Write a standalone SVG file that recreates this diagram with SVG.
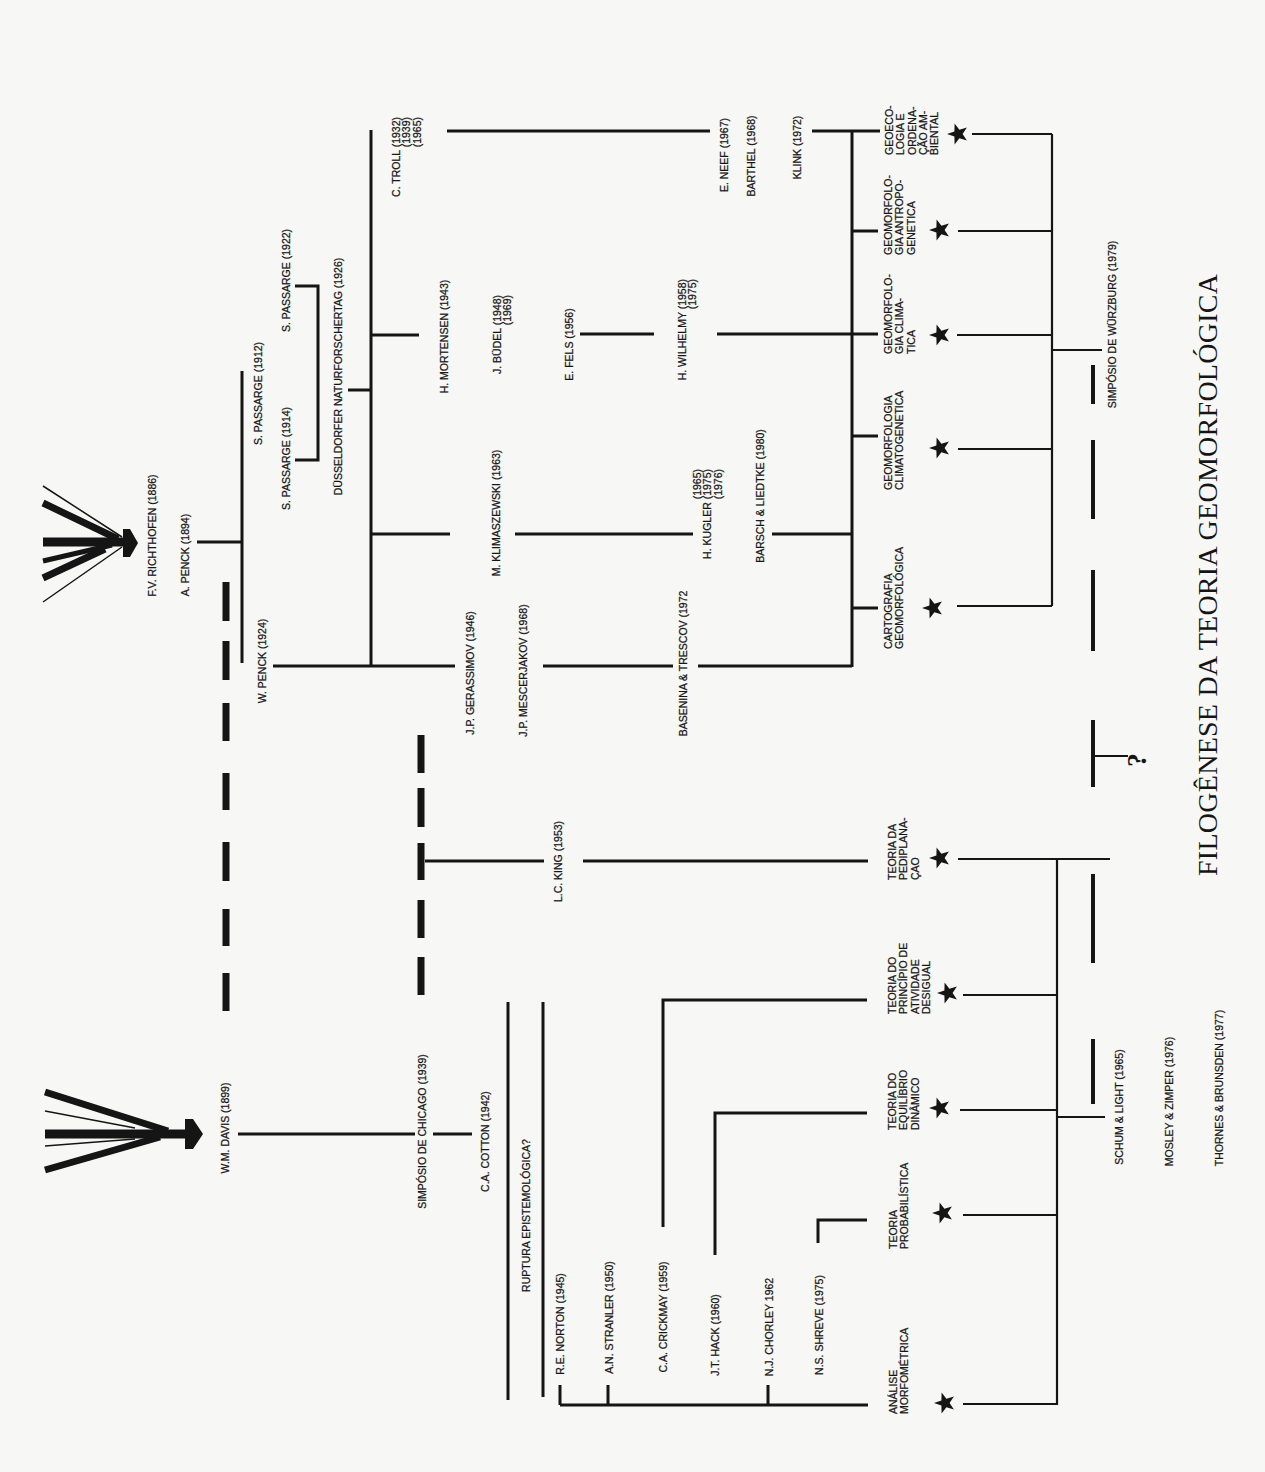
<svg xmlns="http://www.w3.org/2000/svg" xmlns:xlink="http://www.w3.org/1999/xlink" width="1265" height="1472" viewBox="0 0 1265 1472">
<defs>
<style>
.t{font-family:"Liberation Sans",Arial,sans-serif;font-size:10.5px;fill:#151515;stroke:#151515;stroke-width:0.25}
.ttl{font-family:"Liberation Serif","Times New Roman",serif;font-size:28px;fill:#151515}
.q{font-family:"Liberation Serif","Times New Roman",serif;font-size:28px;font-weight:bold;fill:#151515}
.ln{stroke:#151515;stroke-width:3;fill:none}
.lt{stroke:#151515;stroke-width:2.2;fill:none}
.dash{stroke:#151515;stroke-width:7;fill:none}
.dashs{stroke:#151515;stroke-width:4;fill:none}
.fan{stroke:#151515;fill:none;stroke-linecap:butt}
.star{fill:#151515}
</style>
<polygon id="star" points="-11,0 -3.6,-2.6 -3.4,-10.5 1.4,-4.3 8.9,-6.5 4.6,0 8.9,6.5 1.4,4.3 -3.4,10.5 -3.6,2.6"/>
</defs>
<rect x="0" y="0" width="1265" height="1472" fill="#f7f7f5"/>

<g id="connectors">
<path class="ln" d="M197,542 H242 M242,371 V663 M273,666 H455 M371,130 V666 M447,131 H710 M812,131 H880"/>
<path class="ln" d="M371,335 H419 M348,390 H371 M295,286 H318 V460 H295"/>
<path class="ln" d="M580,334 H654 M717,334 H878 M371,534 H450 M515,534 H693 M772,534 H852"/>
<path class="ln" d="M543,666 H673 M698,666 H852 M852,131 V667 M852,231 H878 M852,436 H878 M852,608 H878"/>
<path class="lt" d="M972,134 H1052 M958,231 H1052 M957,335 H1052 M958,449 H1052 M957,606 H1052 M1052,134 V606 M1052,350 H1102"/>
<path class="ln" d="M425,861 H544 M583,861 H868 M238,1134 H415 M433,1134 H472"/>
<path class="ln" d="M508,1002 V1400 M543,1002 V1397"/>
<path class="ln" d="M663,1227 V1000 H867 M715,1255 V1113 H867 M818,1243 V1220 H867"/>
<path class="ln" d="M560,1405 H868 M560,1385 V1405 M608,1385 V1405 M768,1385 V1405"/>
<path class="lt" d="M958,859 H1110 M963,995 H1057 M960,1110 H1057 M963,1215 H1057 M963,1404 H1057 M1057,859 V1405 M1057,1117 H1105 M1093,756 H1128"/>
<path class="dash" d="M226,582 V621 M226,641 V680 M226,703 V741 M226,773 V810 M226,842 V881 M226,909 V946 M226,973 V1011"/>
<path class="dash" d="M421,735 V773 M421,788 V827 M421,843 V880 M421,900 V938 M421,957 V995"/>
<path class="dashs" d="M1093,365 V404 M1093,440 V519 M1093,570 V651 M1093,720 V787 M1093,874 V963 M1093,1039 V1104"/>
</g>

<g id="richthofen-arrow">
<path class="fan" stroke-width="1.5" d="M43,486 L122,537 M43,602 L122,547"/>
<path class="fan" stroke-width="7" d="M43,503 L118,539 M43,578 L105,549"/>
<path class="fan" stroke-width="5" d="M43,561 L112,545"/>
<path class="fan" stroke-width="9" d="M43,542 L126,542"/>
<polygon fill="#151515" points="123,529 130,529 138,543 130,557 123,557"/>
</g>

<g id="davis-arrow">
<path class="fan" stroke-width="1.5" d="M45,1111 L135,1128 M45,1146 L135,1139"/>
<path class="fan" stroke-width="7" d="M45,1092 L168,1131 M45,1170 L160,1137"/>
<path class="fan" stroke-width="9" d="M45,1134 L190,1134"/>
<polygon fill="#151515" points="185,1119 193,1119 203,1134 193,1149 185,1149"/>
</g>

<g id="n-richthofen"><text class="t" text-anchor="middle" transform="translate(155.8,535.5) rotate(-90)">F.V. RICHTHOFEN (1886)</text></g>
<g id="n-apenck"><text class="t" text-anchor="middle" transform="translate(188.8,555) rotate(-90)">A. PENCK (1894)</text></g>
<g id="n-wpenck"><text class="t" text-anchor="middle" transform="translate(265.8,661) rotate(-90)">W. PENCK (1924)</text></g>
<g id="n-passarge1912"><text class="t" text-anchor="middle" transform="translate(261.8,393.5) rotate(-90)">S. PASSARGE (1912)</text></g>
<g id="n-passarge1914"><text class="t" text-anchor="middle" transform="translate(289.8,458.5) rotate(-90)">S. PASSARGE (1914)</text></g>
<g id="n-passarge1922"><text class="t" text-anchor="middle" transform="translate(289.8,280.5) rotate(-90)">S. PASSARGE (1922)</text></g>
<g id="n-dusseldorfer"><text class="t" text-anchor="middle" transform="translate(341.8,376.5) rotate(-90)">DÜSSELDORFER NATURFORSCHERTAG (1926)</text></g>
<g id="n-troll"><text class="t" text-anchor="end" transform="translate(399.8,117) rotate(-90)"><tspan x="0" dy="0">C. TROLL (1932)</tspan><tspan x="0" dy="10.5">(1939)</tspan><tspan x="0" dy="10.5">(1965)</tspan></text></g>
<g id="n-mortensen"><text class="t" text-anchor="middle" transform="translate(447.8,336.5) rotate(-90)">H. MORTENSEN (1943)</text></g>
<g id="n-budel"><text class="t" text-anchor="end" transform="translate(500.8,295) rotate(-90)"><tspan x="0" dy="0">J. BÜDEL (1948)</tspan><tspan x="0" dy="10.5">(1969)</tspan></text></g>
<g id="n-fels"><text class="t" text-anchor="middle" transform="translate(572.8,344.5) rotate(-90)">E. FELS (1956)</text></g>
<g id="n-wilhelmy"><text class="t" text-anchor="end" transform="translate(685.8,279) rotate(-90)"><tspan x="0" dy="0">H. WILHELMY (1958)</tspan><tspan x="0" dy="10.5">(1975)</tspan></text></g>
<g id="n-klimaszewski"><text class="t" text-anchor="middle" transform="translate(499.8,513) rotate(-90)">M. KLIMASZEWSKI (1963)</text></g>
<g id="n-kugler"><text class="t" text-anchor="end" transform="translate(700.8,469) rotate(-90)"><tspan x="0" dy="0">(1965)</tspan><tspan x="0" dy="10.5">H. KUGLER (1975)</tspan><tspan x="0" dy="10.5">(1976)</tspan></text></g>
<g id="n-barsch"><text class="t" text-anchor="middle" transform="translate(763.8,496) rotate(-90)">BARSCH &amp; LIEDTKE (1980)</text></g>
<g id="n-neef"><text class="t" text-anchor="middle" transform="translate(727.8,155) rotate(-90)">E. NEEF (1967)</text></g>
<g id="n-barthel"><text class="t" text-anchor="middle" transform="translate(754.8,156) rotate(-90)">BARTHEL (1968)</text></g>
<g id="n-klink"><text class="t" text-anchor="middle" transform="translate(800.8,147.5) rotate(-90)">KLINK (1972)</text></g>
<g id="n-gerassimov"><text class="t" text-anchor="middle" transform="translate(473.8,673) rotate(-90)">J.P. GERASSIMOV (1946)</text></g>
<g id="n-mescerjakov"><text class="t" text-anchor="middle" transform="translate(526.8,670.5) rotate(-90)">J.P. MESCERJAKOV (1968)</text></g>
<g id="n-basenina"><text class="t" text-anchor="middle" transform="translate(686.8,663.5) rotate(-90)">BASENINA &amp; TRESCOV (1972</text></g>
<g id="n-king"><text class="t" text-anchor="middle" transform="translate(561.8,861.5) rotate(-90)">L.C. KING (1953)</text></g>
<g id="n-davis"><text class="t" text-anchor="middle" transform="translate(228.8,1128) rotate(-90)">W.M. DAVIS (1899)</text></g>
<g id="n-chicago"><text class="t" text-anchor="middle" transform="translate(425.8,1131.5) rotate(-90)">SIMPÓSIO DE CHICAGO (1939)</text></g>
<g id="n-cotton"><text class="t" text-anchor="middle" transform="translate(488.8,1141.5) rotate(-90)">C.A. COTTON (1942)</text></g>
<g id="n-ruptura"><text class="t" text-anchor="middle" transform="translate(529.8,1215.5) rotate(-90)">RUPTURA EPISTEMOLÓGICA?</text></g>
<g id="n-norton"><text class="t" text-anchor="middle" transform="translate(563.8,1324) rotate(-90)">R.E. NORTON (1945)</text></g>
<g id="n-stranler"><text class="t" text-anchor="middle" transform="translate(612.8,1317.5) rotate(-90)">A.N. STRANLER (1950)</text></g>
<g id="n-crickmay"><text class="t" text-anchor="middle" transform="translate(666.8,1317) rotate(-90)">C.A. CRICKMAY (1959)</text></g>
<g id="n-hack"><text class="t" text-anchor="middle" transform="translate(718.8,1335) rotate(-90)">J.T. HACK (1960)</text></g>
<g id="n-chorley"><text class="t" text-anchor="middle" transform="translate(772.8,1327) rotate(-90)">N.J. CHORLEY 1962</text></g>
<g id="n-shreve"><text class="t" text-anchor="middle" transform="translate(822.8,1325) rotate(-90)">N.S. SHREVE (1975)</text></g>
<g id="n-schum"><text class="t" text-anchor="middle" transform="translate(1122.8,1107) rotate(-90)">SCHUM &amp; LIGHT (1965)</text></g>
<g id="n-mosley"><text class="t" text-anchor="middle" transform="translate(1172.8,1101.5) rotate(-90)">MOSLEY &amp; ZIMPER (1976)</text></g>
<g id="n-thornes"><text class="t" text-anchor="middle" transform="translate(1222.8,1088) rotate(-90)">THORNES &amp; BRUNSDEN (1977)</text></g>
<g id="n-wurzburg"><text class="t" text-anchor="middle" transform="translate(1115.8,324.5) rotate(-90)">SIMPÓSIO DE WÜRZBURG (1979)</text></g>

<g id="th-geoecologia">
<text class="t" transform="translate(892.8,155) rotate(-90)"><tspan x="0" dy="0">GEOECO-</tspan><tspan x="0" dy="11.4">LOGIA E</tspan><tspan x="0" dy="11.4">ORDENA-</tspan><tspan x="0" dy="11.4">ÇÃO AM-</tspan><tspan x="0" dy="11.4">BIENTAL</tspan></text>
<use xlink:href="#star" href="#star" x="958" y="134" class="star"/>
</g>
<g id="th-antropogenetica">
<text class="t" transform="translate(891.8,255) rotate(-90)"><tspan x="0" dy="0">GEOMORFOLO-</tspan><tspan x="0" dy="11.4">GIA ANTROPO-</tspan><tspan x="0" dy="11.4">GENETICA</tspan></text>
<use xlink:href="#star" href="#star" x="940" y="230" class="star"/>
</g>
<g id="th-climatica">
<text class="t" transform="translate(891.8,354) rotate(-90)"><tspan x="0" dy="0">GEOMORFOLO-</tspan><tspan x="0" dy="11.4">GIA CLIMA-</tspan><tspan x="0" dy="11.4">TICA</tspan></text>
<use xlink:href="#star" href="#star" x="940" y="335" class="star"/>
</g>
<g id="th-climatogenetica">
<text class="t" transform="translate(891.8,490) rotate(-90)"><tspan x="0" dy="0">GEOMORFOLOGIA</tspan><tspan x="0" dy="11.4">CLIMATOGENETICA</tspan></text>
<use xlink:href="#star" href="#star" x="940" y="448" class="star"/>
</g>
<g id="th-cartografia">
<text class="t" transform="translate(891.8,649) rotate(-90)"><tspan x="0" dy="0">CARTOGRAFIA</tspan><tspan x="0" dy="11.4">GEOMORFOLÓGICA</tspan></text>
<use xlink:href="#star" href="#star" x="933" y="608" class="star"/>
</g>
<g id="th-pediplanacao">
<text class="t" transform="translate(895.8,880) rotate(-90)"><tspan x="0" dy="0">TEORIA DA</tspan><tspan x="0" dy="11.4">PEDIPLANA-</tspan><tspan x="0" dy="11.4">ÇAO</tspan></text>
<use xlink:href="#star" href="#star" x="940" y="858" class="star"/>
</g>
<g id="th-atividade">
<text class="t" transform="translate(895.8,1014) rotate(-90)"><tspan x="0" dy="0">TEORIA DO</tspan><tspan x="0" dy="11.4">PRINCÍPIO DE</tspan><tspan x="0" dy="11.4">ATIVIDADE</tspan><tspan x="0" dy="11.4">DESIGUAL</tspan></text>
<use xlink:href="#star" href="#star" x="948" y="993" class="star"/>
</g>
<g id="th-equilibrio">
<text class="t" transform="translate(895.8,1130) rotate(-90)"><tspan x="0" dy="0">TEORIA DO</tspan><tspan x="0" dy="11.4">EQUILÍBRIO</tspan><tspan x="0" dy="11.4">DINÂMICO</tspan></text>
<use xlink:href="#star" href="#star" x="940" y="1108" class="star"/>
</g>
<g id="th-probabilistica">
<text class="t" transform="translate(897,1249) rotate(-90)"><tspan x="0" dy="0">TEORIA</tspan><tspan x="0" dy="11.4">PROBABILÍSTICA</tspan></text>
<use xlink:href="#star" href="#star" x="943" y="1213" class="star"/>
</g>
<g id="th-morfometrica">
<text class="t" transform="translate(897,1414) rotate(-90)"><tspan x="0" dy="0">ANÁLISE</tspan><tspan x="0" dy="11.4">MORFOMÉTRICA</tspan></text>
<use xlink:href="#star" href="#star" x="945" y="1403" class="star"/>
</g>

<g id="question"><text class="q" text-anchor="middle" transform="translate(1146,760) rotate(-90)">?</text></g>
<g id="title"><text class="ttl" text-anchor="middle" textLength="602" lengthAdjust="spacing" transform="translate(1217,575) rotate(-90)">FILOGÊNESE DA TEORIA GEOMORFOLÓGICA</text></g>
</svg>
